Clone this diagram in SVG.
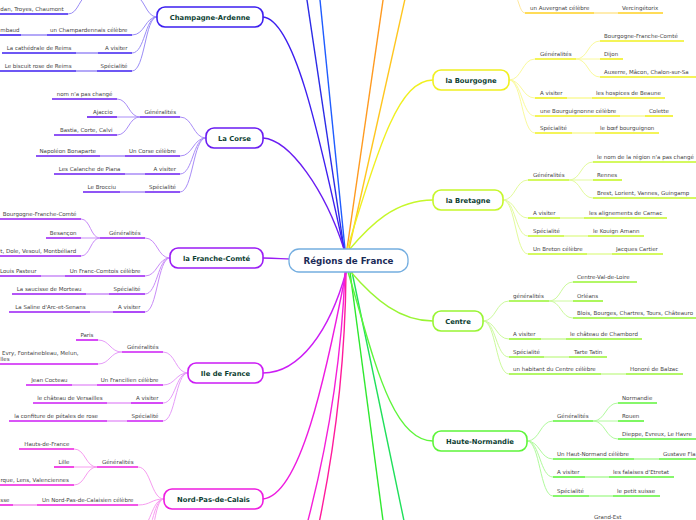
<svg xmlns="http://www.w3.org/2000/svg" width="696" height="520" viewBox="0 0 696 520">
<style>
.t{font-family:"DejaVu Sans",Verdana,sans-serif;font-size:5.5px;fill:#444}
.e{text-anchor:end}
.lb{font-family:"DejaVu Sans",Verdana,sans-serif;font-size:6.8px;font-weight:bold;fill:#0e3f34;text-anchor:middle}
.ctr{font-family:"DejaVu Sans",Verdana,sans-serif;font-size:8.7px;font-weight:bold;fill:#1b2b57;text-anchor:middle}
.box{fill:#fff;stroke-width:1.6}
.u{fill:none;stroke-width:1.6}
.f{fill:none;stroke-width:1.6}
.k{fill:none;stroke-width:1}
.m{fill:none;stroke-width:1.4}
.ca{stroke:#3d1ff0}.cal{stroke:#9a8cf6}
.co{stroke:#6a1cf2}.col{stroke:#a98cf7}
.fc{stroke:#9a1cf5}.fcl{stroke:#c98cf8}
.if{stroke:#cc1cf5}.ifl{stroke:#e69cf9}
.np{stroke:#ee1ce0}.npl{stroke:#f79cf0}
.au{stroke:#ffd020}.aul{stroke:#ffe89c}
.bo{stroke:#f0f020}.bol{stroke:#fafa9c}
.br{stroke:#c6f72a}.brl{stroke:#e3fb9c}
.ce{stroke:#99f533}.cel{stroke:#ccfa9c}
.hn{stroke:#5ef53a}.hnl{stroke:#b0fa9c}
</style>
<rect width="696" height="520" fill="#fff"/>
<g id="connectors">
<path class="m" stroke="#2b2be6" d="M344,249 L305.5,-10"/>
<path class="m" stroke="#1f5cff" d="M345,249 L319,-10"/>
<path class="m" stroke="#ff9a1f" d="M347,249 L384.5,-10"/>
<path class="m" stroke="#ffc61f" d="M349,249 L407,-10"/>
<path class="m" stroke="#f51fd8" d="M345,272 Q340,400 306,528"/>
<path class="m" stroke="#ff1a9c" d="M346,272 Q345,400 318,528"/>
<path class="m" stroke="#2ee82e" d="M350,272 L384,528"/>
<path class="m" stroke="#1fe05a" d="M352,272 L405.5,528"/>
<path class="m ca" d="M263,17 C295,20 320,140 344,249"/>
<path class="m co" d="M263,138 C290,140 325,190 344,249"/>
<path class="m fc" d="M263,258 C278,258 282,259 292,259"/>
<path class="m if" d="M263,373 C300,373 330,330 346,272"/>
<path class="m np" d="M263,499 C300,495 325,380 346,272"/>
<path class="m bo" d="M347,250 C380,140 400,80 433,80"/>
<path class="m br" d="M349,250 C370,225 395,200 433,200"/>
<path class="m ce" d="M350,271 C375,300 400,321 433,321"/>
<path class="m hn" d="M348,272 C372,350 390,441 433,441"/>
<path class="k cal" d="M132,35 C145,35 145,17 157,17 M132,53 C145,53 145,17 157,17 M132,71 C145,71 145,17 157,17 M157,17 C145,17 145,-5 132,-5 M68,14 C79,14 79,-5 90,-5"/>
<path class="f cal" d="M21,35 H47 M76,53 H98 M76,71 H97"/>
<path class="k col" d="M117,99 C128.5,99 128.5,117 140,117 M117,117 H140 M117,135 C128.5,135 128.5,117 140,117 M180,117 C193,117 193,138 206,138 M180,156 C193,156 193,138 206,138 M180,174 C193,174 193,138 206,138 M180,192 C193,192 193,138 206,138"/>
<path class="f col" d="M100,156 H125 M125,174 H145 M120,192 H145"/>
<path class="k fcl" d="M81,219 C90.5,219 90.5,238 100,238 M81,238 H100 M81,256 C90.5,256 90.5,238 100,238 M145,238 C157.5,238 157.5,258 170,258 M145,276 C157.5,276 157.5,258 170,258 M145,294 C157.5,294 157.5,258 170,258 M145,312 C157.5,312 157.5,258 170,258"/>
<path class="f fcl" d="M41,276 H65 M86,294 H109 M90,312 H113"/>
<path class="k ifl" d="M98,340 C110,340 110,352 122,352 M98,364 C110,364 110,352 122,352 M163,352 C175.5,352 175.5,373 188,373 M163,385 C175.5,385 175.5,373 188,373 M163,403 C175.5,403 175.5,373 188,373 M163,421 C175.5,421 175.5,373 188,373"/>
<path class="f ifl" d="M72,385 H97 M107,403 H131 M107,421 H127"/>
<path class="k npl" d="M74,449 C85.5,449 85.5,467 97,467 M74,467 H97 M74,485 C85.5,485 85.5,467 97,467 M138,467 C151,467 151,499 164,499 M138,505 C151,505 151,499 164,499 M164,499 C151,499 151,530 138,530 M164,499 C152,499 153,540 140,540 M164,499 C153,499 155,550 142,550"/>
<path class="f npl" d="M13,505 H37"/>
<path class="k aul" d="M525,13 C519,13 519,-5 513,-5"/>
<path class="f aul" d="M594,13 H618"/>
<path class="k bol" d="M509,80 C522,80 522,59 535,59 M509,80 C522,80 522,98 535,98 M509,80 C522,80 522,116 535,116 M509,80 C522,80 522,133 535,133 M576,59 C588,59 588,41 600,41 M576,59 H600 M576,59 C588,59 588,77 600,77"/>
<path class="f bol" d="M567,98 H592 M620,116 H645 M572,133 H595"/>
<path class="k brl" d="M503,200 C515.5,200 515.5,180 528,180 M503,200 C515.5,200 515.5,218 528,218 M503,200 C515.5,200 515.5,236 528,236 M503,200 C515.5,200 515.5,254 528,254 M569,180 C581,180 581,162 593,162 M569,180 H593 M569,180 C581,180 581,198 593,198"/>
<path class="f brl" d="M560,218 H584 M564,236 H588 M587,254 H612"/>
<path class="k cel" d="M483,321 C496,321 496,301 509,301 M483,321 C496,321 496,339 509,339 M483,321 C496,321 496,357 509,357 M483,321 C496,321 496,374 509,374 M549,301 C561,301 561,282 573,282 M549,301 H573 M549,301 C561,301 561,318 573,318"/>
<path class="f cel" d="M541,339 H566 M544,357 H569 M601,374 H626"/>
<path class="k hnl" d="M527,441 C540,441 540,421 553,421 M527,441 C540,441 540,459 553,459 M527,441 C540,441 540,477 553,477 M527,441 C540,441 540,496 553,496 M593,421 C605.5,421 605.5,403 618,403 M593,421 H618 M593,421 C605.5,421 605.5,439 618,439"/>
<path class="f hnl" d="M634,459 H659 M585,477 H609 M589,496 H613"/>
</g>

<g id="node-center"><rect x="289" y="249" width="119" height="23" rx="10" fill="#fff" stroke="#74aee0" stroke-width="1.3"/><text class="ctr" x="348.5" y="263.8">Régions de France</text></g>

<g id="node-champagne"><rect class="box ca" x="157" y="7" width="106" height="20" rx="8"/><text class="lb" x="210" y="19.5">Champagne-Ardenne</text></g>
<g id="ca-gen-3"><path class="u ca" d="M0,14 H68"/><text class="t" x="0.3" y="10.8">dan, Troyes, Chaumont</text></g>
<g id="ca-celebre"><path class="u ca" d="M47,35 H132"/><text class="t e" x="127.5" y="31.8">un Champardennais célèbre</text></g>
<g id="ca-celebre-1"><path class="u ca" d="M0,35 H21"/><text class="t" x="0.3" y="31.8">mbaud</text></g>
<g id="ca-visiter"><path class="u ca" d="M98,53 H132"/><text class="t e" x="127.5" y="49.8">A visiter</text></g>
<g id="ca-visiter-1"><path class="u ca" d="M2,53 H76"/><text class="t e" x="71.5" y="49.8">La cathédrale de Reims</text></g>
<g id="ca-spec"><path class="u ca" d="M97,71 H132"/><text class="t e" x="127.5" y="67.8">Spécialité</text></g>
<g id="ca-spec-1"><path class="u ca" d="M0,71 H76"/><text class="t e" x="71.5" y="67.8">Le biscuit rose de Reims</text></g>

<g id="node-corse"><rect class="box co" x="206" y="128" width="57" height="20" rx="8"/><text class="lb" x="234.5" y="140.5">La Corse</text></g>
<g id="co-gen"><path class="u co" d="M140,117 H180"/><text class="t e" x="176" y="113.8">Généralités</text></g>
<g id="co-gen-1"><path class="u co" d="M52,99 H117"/><text class="t e" x="112.5" y="95.8">nom n'a pas changé</text></g>
<g id="co-gen-2"><path class="u co" d="M87,117 H117"/><text class="t e" x="112.5" y="113.8">Ajaccio</text></g>
<g id="co-gen-3"><path class="u co" d="M54,135 H117"/><text class="t e" x="112.5" y="131.8">Bastia, Corte, Calvi</text></g>
<g id="co-celebre"><path class="u co" d="M125,156 H180"/><text class="t e" x="176" y="152.8">Un Corse célèbre</text></g>
<g id="co-celebre-1"><path class="u co" d="M36,156 H100"/><text class="t e" x="96" y="152.8">Napoléon Bonaparte</text></g>
<g id="co-visiter"><path class="u co" d="M145,174 H180"/><text class="t e" x="176" y="170.8">A visiter</text></g>
<g id="co-visiter-1"><path class="u co" d="M54,174 H125"/><text class="t e" x="120.5" y="170.8">Les Calanche de Piana</text></g>
<g id="co-spec"><path class="u co" d="M145,192 H180"/><text class="t e" x="176" y="188.8">Spécialité</text></g>
<g id="co-spec-1"><path class="u co" d="M83,192 H120"/><text class="t e" x="116" y="188.8">Le Brocciu</text></g>

<g id="node-franche-comte"><rect class="box fc" x="170" y="248" width="93" height="20" rx="8"/><text class="lb" x="216.5" y="260.5">la Franche-Comté</text></g>
<g id="fc-gen"><path class="u fc" d="M100,238 H145"/><text class="t e" x="140.5" y="234.8">Généralités</text></g>
<g id="fc-gen-1"><path class="u fc" d="M0,219 H81"/><text class="t e" x="76.5" y="215.8">Bourgogne-Franche-Comté</text></g>
<g id="fc-gen-2"><path class="u fc" d="M46,238 H81"/><text class="t e" x="76.5" y="234.8">Besançon</text></g>
<g id="fc-gen-3"><path class="u fc" d="M0,256 H81"/><text class="t" x="0.3" y="252.8">t, Dole, Vesoul, Montbéliard</text></g>
<g id="fc-celebre"><path class="u fc" d="M65,276 H145"/><text class="t e" x="140.5" y="272.8">Un Franc-Comtois célèbre</text></g>
<g id="fc-celebre-1"><path class="u fc" d="M0,276 H41"/><text class="t e" x="36.5" y="272.8">Louis Pasteur</text></g>
<g id="fc-spec"><path class="u fc" d="M109,294 H145"/><text class="t e" x="140.5" y="290.8">Spécialité</text></g>
<g id="fc-spec-1"><path class="u fc" d="M12,294 H86"/><text class="t e" x="81.5" y="290.8">La saucisse de Morteau</text></g>
<g id="fc-visiter"><path class="u fc" d="M113,312 H145"/><text class="t e" x="140.5" y="308.8">A visiter</text></g>
<g id="fc-visiter-1"><path class="u fc" d="M9,312 H90"/><text class="t e" x="85.5" y="308.8">La Saline d'Arc-et-Senans</text></g>

<g id="node-ile-de-france"><rect class="box if" x="188" y="363" width="75" height="20" rx="8"/><text class="lb" x="225.5" y="375.5">Ile de France</text></g>
<g id="if-gen"><path class="u if" d="M122,352 H163"/><text class="t e" x="158.5" y="348.8">Généralités</text></g>
<g id="if-gen-1"><path class="u if" d="M76,340 H98"/><text class="t e" x="93.5" y="336.8">Paris</text></g>
<g id="if-gen-2"><path class="u if" d="M0,364 H98"/><text class="t" x="2" y="355">Evry, Fontainebleau, Melun,</text><text class="t" x="0.3" y="360.8">lles</text></g>
<g id="if-celebre"><path class="u if" d="M97,385 H163"/><text class="t e" x="158.5" y="381.8">Un Francilien célèbre</text></g>
<g id="if-celebre-1"><path class="u if" d="M26,385 H72"/><text class="t e" x="67.5" y="381.8">Jean Cocteau</text></g>
<g id="if-visiter"><path class="u if" d="M131,403 H163"/><text class="t e" x="158.5" y="399.8">A visiter</text></g>
<g id="if-visiter-1"><path class="u if" d="M33,403 H107"/><text class="t e" x="102.5" y="399.8">le château de Versailles</text></g>
<g id="if-spec"><path class="u if" d="M127,421 H163"/><text class="t e" x="158.5" y="417.8">Spécialité</text></g>
<g id="if-spec-1"><path class="u if" d="M9,421 H107"/><text class="t e" x="98" y="417.8">la confiture de pétales de rose</text></g>

<g id="node-nord"><rect class="box np" x="164" y="489" width="99" height="20" rx="8"/><text class="lb" x="213.5" y="501.5">Nord-Pas-de-Calais</text></g>
<g id="np-gen"><path class="u np" d="M97,467 H138"/><text class="t e" x="133.5" y="463.8">Généralités</text></g>
<g id="np-gen-1"><path class="u np" d="M19,449 H74"/><text class="t e" x="69.5" y="445.8">Hauts-de-France</text></g>
<g id="np-gen-2"><path class="u np" d="M54,467 H74"/><text class="t e" x="69.5" y="463.8">Lille</text></g>
<g id="np-gen-3"><path class="u np" d="M0,485 H74"/><text class="t" x="0.4" y="481.8">rque, Lens, Valenciennes</text></g>
<g id="np-celebre"><path class="u np" d="M37,505 H138"/><text class="t e" x="133.5" y="501.8">Un Nord-Pas-de-Calaisien célèbre</text></g>
<g id="np-celebre-1"><path class="u np" d="M0,505 H13"/><text class="t" x="0.3" y="501.8">sse</text></g>

<g id="au-celebre"><path class="u au" d="M525,13 H594"/><text class="t" x="530" y="9.8">un Auvergnat célèbre</text></g>
<g id="au-celebre-1"><path class="u au" d="M618,13 H663"/><text class="t" x="622" y="9.8">Vercingétorix</text></g>

<g id="node-bourgogne"><rect class="box bo" x="433" y="70" width="76" height="20" rx="8"/><text class="lb" x="471" y="82.5">la Bourgogne</text></g>
<g id="bo-gen"><path class="u bo" d="M535,59 H576"/><text class="t" x="540" y="55.8">Généralités</text></g>
<g id="bo-gen-1"><path class="u bo" d="M600,41 H684"/><text class="t" x="604" y="37.8">Bourgogne-Franche-Comté</text></g>
<g id="bo-gen-2"><path class="u bo" d="M600,59 H623"/><text class="t" x="604" y="55.8">Dijon</text></g>
<g id="bo-gen-3"><path class="u bo" d="M600,77 H700"/><text class="t" x="604" y="73.8">Auxerre, Mâcon, Chalon-sur-Sa</text></g>
<g id="bo-visiter"><path class="u bo" d="M535,98 H567"/><text class="t" x="540" y="94.8">A visiter</text></g>
<g id="bo-visiter-1"><path class="u bo" d="M592,98 H665"/><text class="t" x="596" y="94.8">les hospices de Beaune</text></g>
<g id="bo-celebre"><path class="u bo" d="M535,116 H620"/><text class="t" x="540" y="112.8">une Bourguignonne célèbre</text></g>
<g id="bo-celebre-1"><path class="u bo" d="M645,116 H673"/><text class="t" x="649" y="112.8">Colette</text></g>
<g id="bo-spec"><path class="u bo" d="M535,133 H572"/><text class="t" x="540" y="129.8">Spécialité</text></g>
<g id="bo-spec-1"><path class="u bo" d="M595,133 H659"/><text class="t" x="600" y="129.8">le bœf bourguignon</text></g>

<g id="node-bretagne"><rect class="box br" x="433" y="190" width="70" height="20" rx="8"/><text class="lb" x="468" y="202.5">la Bretagne</text></g>
<g id="br-gen"><path class="u br" d="M528,180 H569"/><text class="t" x="533" y="176.8">Généralités</text></g>
<g id="br-gen-1"><path class="u br" d="M593,162 H700"/><text class="t" x="597" y="158.8">le nom de la région n'a pas changé</text></g>
<g id="br-gen-2"><path class="u br" d="M593,180 H622"/><text class="t" x="597" y="176.8">Rennes</text></g>
<g id="br-gen-3"><path class="u br" d="M593,198 H700"/><text class="t" x="597" y="194.8">Brest, Lorient, Vannes, Guingamp</text></g>
<g id="br-visiter"><path class="u br" d="M528,218 H560"/><text class="t" x="533" y="214.8">A visiter</text></g>
<g id="br-visiter-1"><path class="u br" d="M584,218 H667"/><text class="t" x="589" y="214.8">les alignements de Carnac</text></g>
<g id="br-spec"><path class="u br" d="M528,236 H564"/><text class="t" x="533" y="232.8">Spécialité</text></g>
<g id="br-spec-1"><path class="u br" d="M588,236 H644"/><text class="t" x="593" y="232.8">le Kouign Amann</text></g>
<g id="br-celebre"><path class="u br" d="M528,254 H587"/><text class="t" x="533" y="250.8">Un Breton célèbre</text></g>
<g id="br-celebre-1"><path class="u br" d="M612,254 H663"/><text class="t" x="616" y="250.8">Jacques Cartier</text></g>

<g id="node-centre"><rect class="box ce" x="433" y="311" width="50" height="20" rx="8"/><text class="lb" x="458" y="323.5">Centre</text></g>
<g id="ce-gen"><path class="u ce" d="M509,301 H549"/><text class="t" x="513" y="297.8">généralités</text></g>
<g id="ce-gen-1"><path class="u ce" d="M573,282 H637"/><text class="t" x="577" y="278.8">Centre-Val-de-Loire</text></g>
<g id="ce-gen-2"><path class="u ce" d="M573,301 H603"/><text class="t" x="577" y="297.8">Orléans</text></g>
<g id="ce-gen-3"><path class="u ce" d="M573,318 H700"/><text class="t" x="577" y="314.8">Blois, Bourges, Chartres, Tours, Châteauro</text></g>
<g id="ce-visiter"><path class="u ce" d="M509,339 H541"/><text class="t" x="513" y="335.8">A visiter</text></g>
<g id="ce-visiter-1"><path class="u ce" d="M566,339 H642"/><text class="t" x="570" y="335.8">le château de Chambord</text></g>
<g id="ce-spec"><path class="u ce" d="M509,357 H544"/><text class="t" x="513" y="353.8">Spécialité</text></g>
<g id="ce-spec-1"><path class="u ce" d="M569,357 H607"/><text class="t" x="574" y="353.8">Tarte Tatin</text></g>
<g id="ce-celebre"><path class="u ce" d="M509,374 H601"/><text class="t" x="513" y="370.8">un habitant du Centre célèbre</text></g>
<g id="ce-celebre-1"><path class="u ce" d="M626,374 H683"/><text class="t" x="630" y="370.8">Honoré de Balzac</text></g>

<g id="node-haute-normandie"><rect class="box hn" x="433" y="431" width="94" height="20" rx="8"/><text class="lb" x="480" y="443.5">Haute-Normandie</text></g>
<g id="hn-gen"><path class="u hn" d="M553,421 H593"/><text class="t" x="557" y="417.8">Généralités</text></g>
<g id="hn-gen-1"><path class="u hn" d="M618,403 H657"/><text class="t" x="622" y="399.8">Normandie</text></g>
<g id="hn-gen-2"><path class="u hn" d="M618,421 H644"/><text class="t" x="622" y="417.8">Rouen</text></g>
<g id="hn-gen-3"><path class="u hn" d="M618,439 H700"/><text class="t" x="622" y="435.8">Dieppe, Evreux, Le Havre</text></g>
<g id="hn-celebre"><path class="u hn" d="M553,459 H634"/><text class="t" x="557" y="455.8">Un Haut-Normand célèbre</text></g>
<g id="hn-celebre-1"><path class="u hn" d="M659,459 H700"/><text class="t" x="663" y="455.8">Gustave Fla</text></g>
<g id="hn-visiter"><path class="u hn" d="M553,477 H585"/><text class="t" x="557" y="473.8">A visiter</text></g>
<g id="hn-visiter-1"><path class="u hn" d="M609,477 H674"/><text class="t" x="613" y="473.8">les falaises d'Etretat</text></g>
<g id="hn-spec"><path class="u hn" d="M553,496 H589"/><text class="t" x="557" y="492.8">Spécialité</text></g>
<g id="hn-spec-1"><path class="u hn" d="M613,496 H660"/><text class="t" x="617" y="492.8">le petit suisse</text></g>

<g id="ge-item"><text class="t" x="594" y="518.5">Grand-Est</text></g>
</svg>
